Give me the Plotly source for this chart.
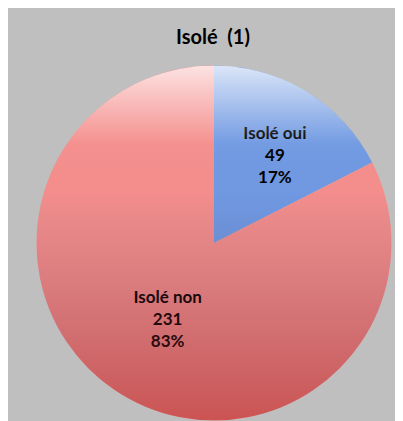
import base64
import plotly.graph_objects as go

# data
labels = ['Isolé oui', 'Isolé non']
values = [49, 231]
pct_text = ['17%', '83%']
colors = ['#7099e2', '#f48e8c']

W, H = 403, 421
GRAY = '#bfbfbf'

# the page puts the figure 8px in from the window edge, so work in figure px
cx, cy, r = 206, 235, 177.5
dom_x = [(cx - r) / W, (cx + r) / W]
dom_y = [(H - cy - r) / H, (H - cy + r) / H]

# soft top-to-bottom shading laid over the disc (Excel-style gradient fill)
svg = (
    '<svg xmlns="http://www.w3.org/2000/svg" viewBox="0 0 100 100">'
    '<defs><linearGradient id="g" x1="0" y1="0" x2="0" y2="1">'
    '<stop offset="0" stop-color="#ffffff" stop-opacity="0.75"/>'
    '<stop offset="0.12" stop-color="#ffffff" stop-opacity="0.35"/>'
    '<stop offset="0.22" stop-color="#ffffff" stop-opacity="0.03"/>'
    '<stop offset="0.35" stop-color="#2c3a80" stop-opacity="0"/>'
    '<stop offset="0.52" stop-color="#60304a" stop-opacity="0.12"/>'
    '<stop offset="1" stop-color="#a01414" stop-opacity="0.48"/>'
    '</linearGradient></defs>'
    '<circle cx="50" cy="50" r="50" fill="url(#g)"/></svg>'
)
svg_uri = 'data:image/svg+xml;base64,' + base64.b64encode(svg.encode()).decode()

label_tpl = '<b>%{label}</b><br><b>%{value}</b><br><b>%{text}</b>'

fig = go.Figure(go.Pie(
    labels=labels,
    values=values,
    text=pct_text,
    # a blank line on the small slice pushes its label down toward the middle
    texttemplate=['&nbsp;<br>' + label_tpl, label_tpl],
    textposition='inside',
    insidetextorientation='horizontal',
    textfont=dict(family='Lato', size=17, color='black'),
    marker=dict(colors=colors, line=dict(width=0)),
    sort=False,
    direction='clockwise',
    rotation=0,
    showlegend=False,
    hoverinfo='label+value+percent',
    domain=dict(x=dom_x, y=dom_y),
))

fig.update_layout(
    width=W, height=H,
    margin=dict(l=0, r=0, t=0, b=0),
    paper_bgcolor=GRAY,
    plot_bgcolor=GRAY,
    title=dict(
        text='<b>Isolé  (1)</b>',
        x=205 / W, xanchor='center', xref='paper',
        y=1 - 29 / H, yanchor='middle', yref='paper',
        font=dict(family='Lato', size=20, color='black'),
    ),
    images=[dict(
        source=svg_uri, xref='paper', yref='paper',
        x=dom_x[0], y=dom_y[1], sizex=dom_x[1] - dom_x[0], sizey=dom_y[1] - dom_y[0],
        xanchor='left', yanchor='top', sizing='stretch', layer='above',
    )],
)

fig.write_html('out.html')
